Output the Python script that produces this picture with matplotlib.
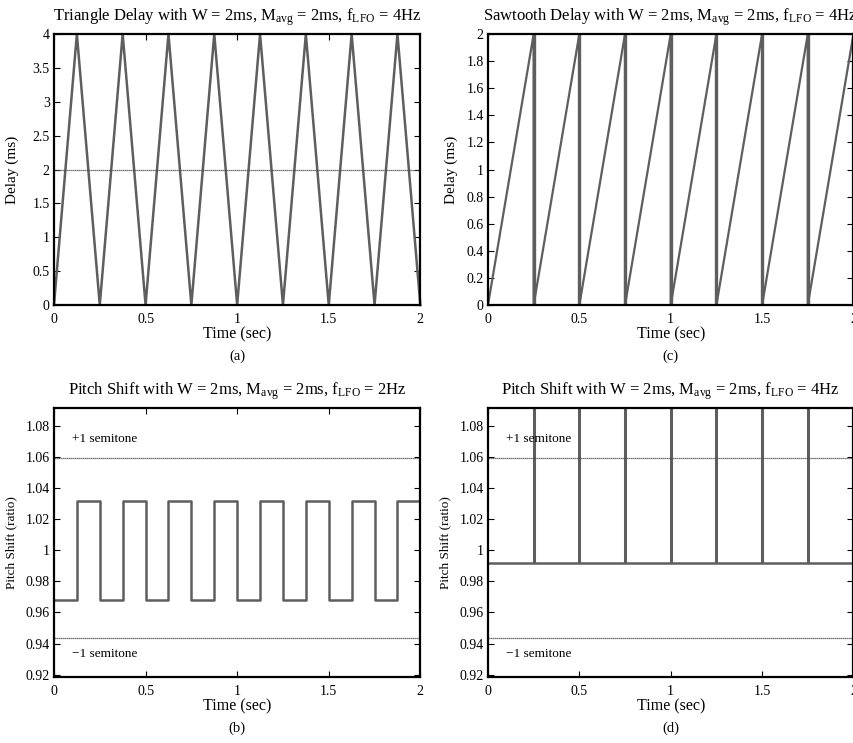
import matplotlib
matplotlib.use('Agg')
from matplotlib import pyplot as plt
from matplotlib.ticker import FuncFormatter, MultipleLocator

plt.rcParams['font.family'] = ['Liberation Serif', 'DejaVu Serif']
plt.rcParams['mathtext.fontset'] = 'custom'
plt.rcParams['mathtext.rm'] = 'Liberation Serif'
plt.rcParams['mathtext.it'] = 'Liberation Serif:italic'

# (a) triangle delay, ms
tri_time = [0, 0.125, 0.25, 0.375, 0.5, 0.625, 0.75, 0.875, 1.0,
            1.125, 1.25, 1.375, 1.5, 1.625, 1.75, 1.875, 2.0]
tri_delay = [0, 4, 0, 4, 0, 4, 0, 4, 0, 4, 0, 4, 0, 4, 0, 4, 0]
tri_avg = 2

# (c) sawtooth delay, ms
saw_time = [0, 0.25, 0.25, 0.5, 0.5, 0.75, 0.75, 1.0, 1.0,
            1.25, 1.25, 1.5, 1.5, 1.75, 1.75, 2.0]
saw_delay = [0, 2, 0, 2, 0, 2, 0, 2, 0, 2, 0, 2, 0, 2, 0, 2]

# (b) pitch shift of triangle (step function)
pitch_b_time = [0, 0.125, 0.25, 0.375, 0.5, 0.625, 0.75, 0.875, 1.0,
                1.125, 1.25, 1.375, 1.5, 1.625, 1.75, 1.875, 2.0]
pitch_b = [0.968, 1.032, 0.968, 1.032, 0.968, 1.032, 0.968, 1.032, 0.968,
           1.032, 0.968, 1.032, 0.968, 1.032, 0.968, 1.032, 1.032]

# (d) pitch shift of sawtooth: flat with spikes at resets
pitch_d_time = [0, 2.0]
pitch_d = [0.992, 0.992]
spike_times = [0.25, 0.5, 0.75, 1.0, 1.25, 1.5, 1.75]
spike_peak = 1.5

semitone_up = 1.0595
semitone_down = 0.9439

LINE = '#5e5e5e'
REF = '#4a4a4a'
fmt = FuncFormatter(lambda v, p: '%g' % round(v, 4))

fig = plt.figure(figsize=(8.54, 7.43), dpi=100)
w = 0.429
ax_a = fig.add_axes([0.0632, 0.5895, w, 0.3647])
ax_c = fig.add_axes([0.5714, 0.5895, w - 0.001, 0.3647])
ax_b = fig.add_axes([0.0632, 0.0888, w, 0.3621])
ax_d = fig.add_axes([0.5714, 0.0888, w - 0.001, 0.3621])


def style_axes(ax, letter):
    ax.set_xlim(0, 2)
    ax.xaxis.set_major_locator(MultipleLocator(0.5))
    ax.xaxis.set_major_formatter(fmt)
    ax.yaxis.set_major_formatter(fmt)
    ax.tick_params(direction='in', top=True, right=True, length=4,
                   width=0.8, labelsize=10, pad=3)
    ax.tick_params(axis='x', pad=6)
    for s in ax.spines.values():
        s.set_linewidth(1.6)
    ax.set_xlabel('Time (sec)', fontsize=11.5, labelpad=0)
    ax.text(0.5, -0.19, letter, transform=ax.transAxes, ha='center',
            va='center', fontsize=10.5)


title_kw = dict(fontsize=12, pad=9.5)

# (a)
ax_a.plot(tri_time, tri_delay, color=LINE, lw=1.8, clip_on=False)
ax_a.axhline(tri_avg, color=REF, lw=0.9, ls=(0, (1, 0.6)))
ax_a.set_ylim(0, 4)
ax_a.yaxis.set_major_locator(MultipleLocator(0.5))
ax_a.set_ylabel('Delay (ms)', fontsize=11, labelpad=10)
ax_a.set_title(r'Triangle Delay with W = 2ms, M$_{\mathrm{avg}}$ = 2ms, f$_{\mathrm{LFO}}$ = 4Hz',
               **title_kw)
style_axes(ax_a, '(a)')

# (c)
ax_c.plot(saw_time, saw_delay, color=LINE, lw=1.6, clip_on=False)
ax_c.vlines(saw_time[1:-1:2], 0, 2, color=LINE, lw=2.4)
ax_c.set_ylim(0, 2)
ax_c.yaxis.set_major_locator(MultipleLocator(0.2))
ax_c.set_ylabel('Delay (ms)', fontsize=11, labelpad=6)
ax_c.set_title(r'Sawtooth Delay with W = 2ms, M$_{\mathrm{avg}}$ = 2ms, f$_{\mathrm{LFO}}$ = 4Hz',
               **title_kw)
style_axes(ax_c, '(c)')

# (b)
ax_b.step(pitch_b_time, pitch_b, where='post', color=LINE, lw=1.8)
ax_b.set_title(r'Pitch Shift with W = 2ms, M$_{\mathrm{avg}}$ = 2ms, f$_{\mathrm{LFO}}$ = 2Hz',
               **title_kw)

# (d)
ax_d.plot(pitch_d_time, pitch_d, color=LINE, lw=1.8)
ax_d.vlines(spike_times, pitch_d[0], spike_peak, color=LINE, lw=2.2)
ax_d.set_title(r'Pitch Shift with W = 2ms, M$_{\mathrm{avg}}$ = 2ms, f$_{\mathrm{LFO}}$ = 4Hz',
               **title_kw)

for ax, letter in ((ax_b, '(b)'), (ax_d, '(d)')):
    ax.axhline(semitone_up, color=REF, lw=0.9, ls=(0, (1, 0.6)))
    ax.axhline(semitone_down, color=REF, lw=0.9, ls=(0, (1, 0.6)))
    ax.text(0.1, 1.0715, '+1 semitone', fontsize=9.5, va='center')
    ax.text(0.1, 0.933, '\u22121 semitone', fontsize=9.5, va='center')
    ax.set_ylim(0.9185, 1.0915)
    ax.yaxis.set_major_locator(MultipleLocator(0.02))
    ax.set_ylabel('Pitch Shift (ratio)', fontsize=9.5, labelpad=6)
    style_axes(ax, letter)

fig.savefig('out.png', dpi=100)
